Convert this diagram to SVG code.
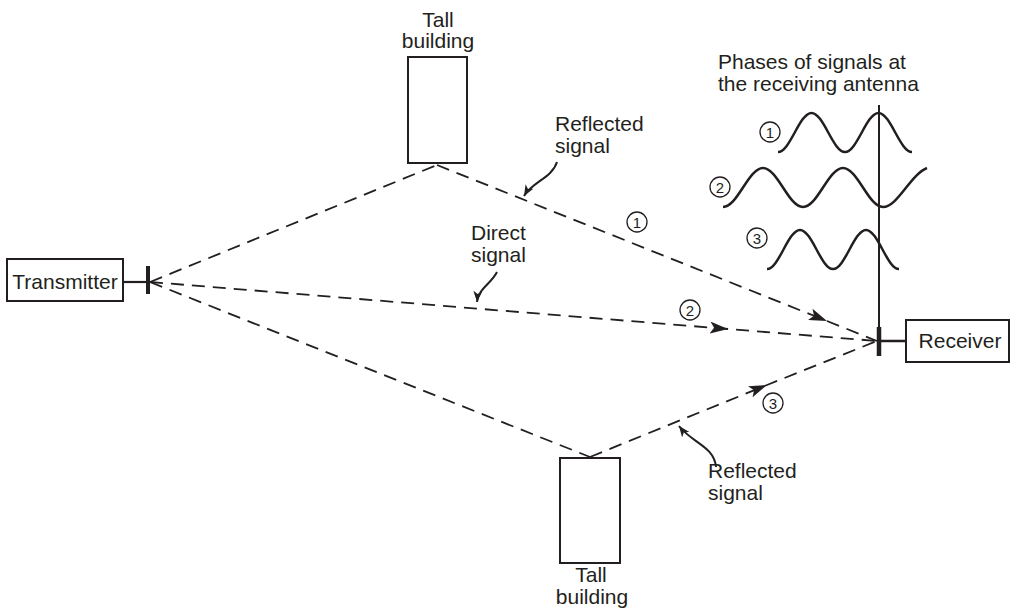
<svg xmlns="http://www.w3.org/2000/svg" width="1011" height="613" viewBox="0 0 1011 613">
<style>
text{font-family:"Liberation Sans",Arial,sans-serif;font-size:21px;fill:#231f20}
.c{text-anchor:middle}
.n{font-size:15px;text-anchor:middle}
.box{fill:#fff;stroke:#231f20;stroke-width:2}
.sig{fill:none;stroke:#231f20;stroke-width:1.8;stroke-dasharray:13 8}
.wave{fill:none;stroke:#231f20;stroke-width:2.5}
.circ{fill:none;stroke:#231f20;stroke-width:1.3}
.ptr{fill:none;stroke:#231f20;stroke-width:2}
</style>
<defs>
<marker id="ah" viewBox="0 0 18 12" refX="18" refY="6" markerWidth="18" markerHeight="12" markerUnits="userSpaceOnUse" orient="auto">
<path d="M0,0 L18,6 L0,12 L4,6 Z" fill="#231f20"/>
</marker>
<marker id="ph" viewBox="0 0 11 9" refX="11" refY="4.5" markerWidth="11" markerHeight="9" markerUnits="userSpaceOnUse" orient="auto">
<path d="M0,0 L11,4.5 L0,9 L3,4.5 Z" fill="#231f20"/>
</marker>
</defs>

<g id="connectors">
<path class="sig" d="M150,282 L437,165"/>
<path class="sig" d="M437,165 L827,321 L877,341" marker-mid="url(#ah)"/>
<path class="sig" d="M150,282 L728,329 L877,341" marker-mid="url(#ah)"/>
<path class="sig" d="M150,282 L590,457"/>
<path class="sig" d="M590,457 L767,385 L877,341" marker-mid="url(#ah)"/>
<path class="ptr" d="M557,162 C552,178 532,182 524,196" marker-end="url(#ph)"/>
<path class="ptr" d="M497,272 C491,284 478,289 477,302" marker-end="url(#ph)"/>
<path class="ptr" d="M716,467 C714,446 692,443 679,426" marker-end="url(#ph)"/>
</g>

<g id="transmitter">
<rect class="box" x="7" y="259" width="116" height="42"/>
<text class="c" x="65" y="289">Transmitter</text>
<line x1="123" y1="282" x2="148" y2="282" stroke="#231f20" stroke-width="2.2"/>
<line x1="148" y1="266" x2="148" y2="294" stroke="#231f20" stroke-width="4"/>
</g>

<g id="receiver">
<line x1="879" y1="105" x2="879" y2="328" stroke="#231f20" stroke-width="2"/>
<line x1="879" y1="327" x2="879" y2="356" stroke="#231f20" stroke-width="4.5"/>
<line x1="879" y1="341" x2="906" y2="341" stroke="#231f20" stroke-width="2.5"/>
<rect class="box" x="906" y="320" width="103" height="42"/>
<text class="c" x="960" y="348">Receiver</text>
</g>

<g id="building-top">
<text class="c" x="438" y="27">Tall</text>
<text class="c" x="438" y="48">building</text>
<rect class="box" x="408" y="57" width="59" height="106"/>
</g>

<g id="building-bottom">
<rect class="box" x="560" y="458" width="60" height="105"/>
<text class="c" x="591" y="582">Tall</text>
<text class="c" x="592" y="604">building</text>
</g>

<g id="labels">
<text x="555" y="131">Reflected</text>
<text x="555" y="153">signal</text>
<text x="471" y="240">Direct</text>
<text x="471" y="262">signal</text>
<text x="708" y="478">Reflected</text>
<text x="708" y="500">signal</text>
<circle class="circ" cx="637" cy="222" r="10"/>
<text class="n" x="637" y="227.5">1</text>
<circle class="circ" cx="690" cy="310" r="10"/>
<text class="n" x="690" y="315.5">2</text>
<circle class="circ" cx="773" cy="403" r="10"/>
<text class="n" x="773" y="408.5">3</text>
</g>

<g id="phases">
<text x="718" y="69">Phases of signals at</text>
<text x="718" y="91">the receiving antenna</text>
<circle class="circ" cx="770" cy="132" r="10"/>
<text class="n" x="770" y="137.5">1</text>
<circle class="circ" cx="720" cy="187" r="10"/>
<text class="n" x="720" y="192.5">2</text>
<circle class="circ" cx="757" cy="238" r="10"/>
<text class="n" x="757" y="243.5">3</text>
<path class="wave" d="M778,152 C790.2,152 799.3,113 811.5,113 C823.7,113 832.8,152 845,152 C857.2,152 866.3,113 878.5,113 C890.7,113 899.8,152 912,152"/>
<path class="wave" d="M723,207 C737.6,207 748.4,168 763,168 C777.6,168 788.4,207 803,207 C817.6,207 828.4,168 843,168 C857.6,168 868.4,207 883,207 C897.6,207 910,175 927,168"/>
<path class="wave" d="M767,269 C779,269 788,230 800,230 C812,230 821,269 833,269 C845,269 854,230 866,230 C878,230 887,269 899,269"/>
</g>
</svg>
